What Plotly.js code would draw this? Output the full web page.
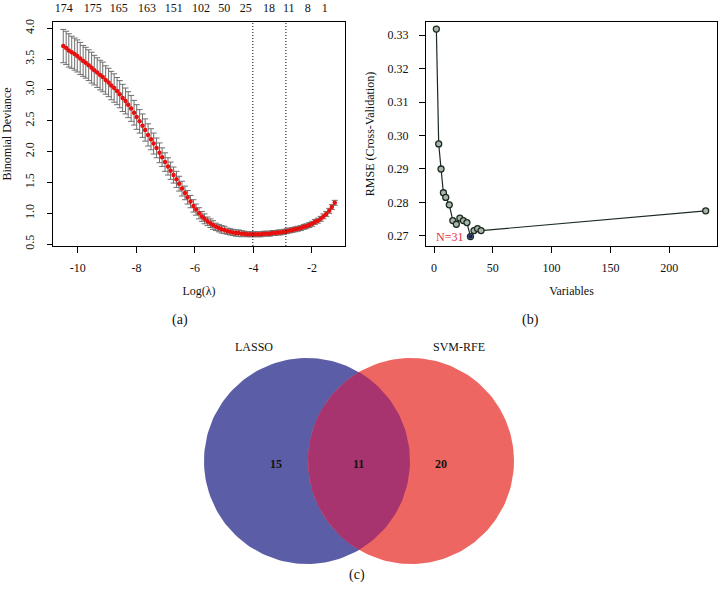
<!DOCTYPE html>
<html>
<head>
<meta charset="utf-8">
<script src="https://cdn.plot.ly/plotly-3.0.1.min.js"></script>
<style>html,body{margin:0;padding:0;background:#fff;}#chart{width:719px;height:594px;}</style>
</head>
<body>
<div id="chart"></div>
<script>
// ---------- Panel (a): LASSO cross-validation ----------
var logLambda = [-10.50,-10.40,-10.31,-10.21,-10.11,-10.02,-9.92,-9.82,-9.73,-9.63,
  -9.53,-9.44,-9.34,-9.24,-9.15,-9.05,-8.95,-8.86,-8.76,-8.66,
  -8.57,-8.47,-8.37,-8.28,-8.18,-8.08,-7.99,-7.89,-7.79,-7.70,
  -7.60,-7.50,-7.41,-7.31,-7.21,-7.12,-7.02,-6.92,-6.83,-6.73,
  -6.63,-6.54,-6.44,-6.34,-6.25,-6.15,-6.05,-5.96,-5.86,-5.76,
  -5.67,-5.57,-5.47,-5.38,-5.28,-5.18,-5.09,-4.99,-4.89,-4.80,
  -4.70,-4.60,-4.51,-4.41,-4.31,-4.22,-4.12,-4.02,-3.93,-3.83,
  -3.73,-3.64,-3.54,-3.44,-3.35,-3.25,-3.15,-3.06,-2.96,-2.86,
  -2.77,-2.67,-2.57,-2.48,-2.38,-2.28,-2.19,-2.09,-1.99,-1.90,
  -1.80,-1.70,-1.61,-1.51,-1.41,-1.32,-1.22];
var deviance = [3.71,3.68,3.64,3.61,3.58,3.55,3.51,3.47,3.44,3.40,
  3.36,3.32,3.28,3.24,3.21,3.16,3.12,3.07,3.03,2.98,
  2.93,2.87,2.82,2.76,2.70,2.63,2.56,2.49,2.42,2.35,
  2.27,2.20,2.13,2.06,1.98,1.91,1.83,1.76,1.69,1.62,
  1.55,1.48,1.40,1.33,1.26,1.19,1.12,1.06,1.00,0.95,
  0.91,0.87,0.84,0.81,0.78,0.76,0.74,0.73,0.71,0.70,
  0.69,0.68,0.68,0.67,0.67,0.66,0.66,0.66,0.66,0.66,
  0.66,0.67,0.67,0.67,0.68,0.68,0.69,0.69,0.70,0.71,
  0.72,0.73,0.74,0.75,0.76,0.78,0.79,0.81,0.83,0.86,
  0.88,0.91,0.95,0.99,1.04,1.10,1.17];
var devianceSE = [0.27,0.27,0.27,0.26,0.26,0.26,0.26,0.25,0.25,0.25,
  0.25,0.24,0.24,0.24,0.24,0.23,0.23,0.23,0.23,0.22,
  0.22,0.22,0.21,0.21,0.21,0.20,0.20,0.19,0.19,0.18,
  0.18,0.17,0.17,0.16,0.16,0.15,0.15,0.14,0.14,0.13,
  0.13,0.12,0.12,0.11,0.11,0.10,0.10,0.09,0.09,0.08,
  0.08,0.07,0.07,0.07,0.06,0.06,0.06,0.06,0.05,0.05,
  0.05,0.05,0.05,0.05,0.04,0.04,0.04,0.04,0.04,0.04,
  0.04,0.04,0.04,0.04,0.04,0.04,0.04,0.04,0.04,0.04,
  0.04,0.04,0.04,0.04,0.04,0.04,0.04,0.04,0.04,0.04,
  0.04,0.04,0.04,0.04,0.04,0.04,0.04];
var lambdaMin = -4.02, lambda1se = -2.89;
var topTickPos = [-10.48,-9.49,-8.60,-7.64,-6.72,-5.79,-5.00,-4.26,-3.47,-2.79,-2.14,-1.56];
var topTickLabels = ["174","175","165","163","151","102","50","25","18","11","8","1"];

// ---------- Panel (b): SVM-RFE ----------
var nVariables = [2,4,6,8,10,13,16,19,22,25,28,31,34,37,40,231];
var rmse = [0.3318,0.2975,0.2900,0.2829,0.2815,0.2793,0.2746,0.2735,0.2753,0.2746,0.2740,0.2698,0.2716,0.2722,0.2716,0.2775];
var bestN = 31, bestRmse = 0.2698;

// ---------- Panel (c): Venn ----------
var setNames = ["LASSO","SVM-RFE"];
var onlyLasso = 15, both = 11, onlySvm = 20;

var FONT = "Liberation Serif, Times New Roman, serif";
var W = 719, H = 594;
function px(x){return x/W;}
function py(y){return 1 - y/H;}

var traces = [];
traces.push({
  x: logLambda, y: deviance, type: "scatter", mode: "markers",
  xaxis: "x", yaxis: "y",
  marker: {color: "#E8100E", size: 4.5},
  error_y: {type: "data", array: devianceSE, visible: true, color: "#6e6e6e", thickness: 1, width: 3},
  hoverinfo: "x+y"
});
// carrier for the top (number of non-zero coefficients) axis
traces.push({
  x: logLambda, y: deviance, type: "scatter", mode: "none",
  xaxis: "x2", yaxis: "y", hoverinfo: "skip"
});
traces.push({
  x: nVariables, y: rmse, type: "scatter", mode: "lines+markers",
  xaxis: "x3", yaxis: "y3",
  line: {color: "#1c2b22", width: 1.2},
  marker: {symbol: "circle", size: 6, color: "#a9b5a9", line: {color: "#1c2b22", width: 1.3}}
});
traces.push({
  x: [bestN], y: [bestRmse], type: "scatter", mode: "markers",
  xaxis: "x3", yaxis: "y3",
  marker: {size: 4.5, color: "#1a2366"}
});

// Venn geometry (axis x4/y4, 1 unit = 1 px)
var R = 103, cL = [127,119], cR = [231,119];
function arc(c, a0, a1, n){
  var xs=[], ys=[];
  for (var i=0;i<=n;i++){var a=a0+(a1-a0)*i/n; xs.push(c[0]+R*Math.cos(a)); ys.push(c[1]+R*Math.sin(a));}
  return [xs,ys];
}
var full = function(c){return arc(c,0,2*Math.PI,180);};
var L = full(cL), Rt = full(cR);
traces.push({x:L[0], y:L[1], xaxis:"x4", yaxis:"y4", type:"scatter", mode:"lines", fill:"toself", fillcolor:"#5B5EA6", line:{width:0, color:"#5B5EA6"}, hoverinfo:"skip"});
traces.push({x:Rt[0], y:Rt[1], xaxis:"x4", yaxis:"y4", type:"scatter", mode:"lines", fill:"toself", fillcolor:"#EE6662", line:{width:0, color:"#EE6662"}, hoverinfo:"skip"});
var d = cR[0]-cL[0], th = Math.acos((d/2)/R);
var a1 = arc(cL,-th,th,60), a2 = arc(cR,Math.PI-th,Math.PI+th,60);
traces.push({x:a1[0].concat(a2[0]), y:a1[1].concat(a2[1]), xaxis:"x4", yaxis:"y4", type:"scatter", mode:"lines", fill:"toself", fillcolor:"#A8346F", line:{width:0, color:"#A8346F"}, hoverinfo:"skip"});

var axFont = {family: FONT, size: 12, color: "#111"};
var yDom = [py(246), py(22)];
var layout = {
  width: W, height: H, showlegend: false,
  margin: {l:0, r:0, t:0, b:0},
  paper_bgcolor: "#fff", plot_bgcolor: "#fff",
  font: {family: FONT, size: 12, color: "#111"},
  xaxis: {domain:[px(53), px(345)], anchor:"y", range:[-10.85,-0.87], tickvals:[-10,-8,-6,-4,-2], ticktext:["-10","-8","-6","-4","-2"],
    ticks:"outside", ticklen:6, tickcolor:"#000", showline:true, mirror:true, linecolor:"#000", linewidth:1,
    showgrid:false, zeroline:false, tickfont:axFont, ticklabelstandoff:5,
    title:{text:"Log(λ)", font:axFont, standoff:12}},
  xaxis2: {overlaying:"x", side:"top", anchor:"y", range:[-10.85,-0.87], tickvals: topTickPos, ticktext: topTickLabels,
    ticks:"", showline:false, showgrid:false, zeroline:false, tickfont:axFont, ticklabelstandoff:7},
  yaxis: {domain: yDom, anchor:"x", range:[0.47,4.1], tickvals:[0.5,1,1.5,2,2.5,3,3.5,4], ticktext:["0.5","1.0","1.5","2.0","2.5","3.0","3.5","4.0"],
    tickangle:-90, ticks:"outside", ticklen:5, tickcolor:"#000", showline:true, mirror:true, linecolor:"#000", linewidth:1,
    showgrid:false, zeroline:false, tickfont:axFont, ticklabelstandoff:8,
    title:{text:"Binomial Deviance", font:axFont, standoff:10}},
  xaxis3: {domain:[px(426), px(717)], anchor:"y3", range:[-6.8,240.6], tickvals:[0,50,100,150,200],
    ticks:"outside", ticklen:6, tickcolor:"#000", showline:true, mirror:true, linecolor:"#000", linewidth:1,
    showgrid:false, zeroline:false, tickfont:axFont, ticklabelstandoff:5,
    title:{text:"Variables", font:axFont, standoff:12}},
  yaxis3: {domain: yDom, anchor:"x3", range:[0.267,0.3339], tickvals:[0.27,0.28,0.29,0.30,0.31,0.32,0.33], ticktext:["0.27","0.28","0.29","0.30","0.31","0.32","0.33"],
    ticks:"outside", ticklen:6, tickcolor:"#000", showline:true, mirror:true, linecolor:"#000", linewidth:1,
    showgrid:false, zeroline:false, tickfont:axFont, ticklabelstandoff:8,
    title:{text:"RMSE (Cross-Validation)", font:axFont, standoff:10}},
  xaxis4: {domain:[px(180), px(540)], anchor:"y4", range:[0,360], visible:false, fixedrange:true},
  yaxis4: {domain:[py(580), py(340)], anchor:"x4", range:[0,240], visible:false, fixedrange:true},
  shapes: [
    {type:"line", xref:"x", yref:"y domain", x0:lambdaMin, x1:lambdaMin, y0:0, y1:1, line:{color:"#000", width:1, dash:"1px,2px"}},
    {type:"line", xref:"x", yref:"y domain", x0:lambda1se, x1:lambda1se, y0:0, y1:1, line:{color:"#000", width:1, dash:"1px,2px"}}
  ],
  annotations: [
    {x:bestN, y:bestRmse, xref:"x3", yref:"y3", text:"N=" + bestN, showarrow:false, xanchor:"right", xshift:-5, font:{family:FONT, size:12, color:"#E8303A"}},
    {x:px(170), y:py(320), xref:"paper", yref:"paper", text:"(a)", showarrow:false, font:{family:FONT, size:14, color:"#111"}},
    {x:px(541), y:py(320), xref:"paper", yref:"paper", text:"(b)", showarrow:false, font:{family:FONT, size:14, color:"#111"}},
    {x:px(357), y:py(585), xref:"paper", yref:"paper", text:"(c)", showarrow:false, font:{family:FONT, size:14, color:"#111"}},
    {x:74, y:233, xref:"x4", yref:"y4", text:setNames[0], showarrow:false, font:{family:FONT, size:12, color:"#111"}},
    {x:279, y:233, xref:"x4", yref:"y4", text:setNames[1], showarrow:false, font:{family:FONT, size:12, color:"#111"}},
    {x:96, y:116, xref:"x4", yref:"y4", text:"<b>"+onlyLasso+"</b>", showarrow:false, font:{family:FONT, size:12, color:"#111"}},
    {x:178, y:116, xref:"x4", yref:"y4", text:"<b>"+both+"</b>", showarrow:false, font:{family:FONT, size:12, color:"#111"}},
    {x:261, y:116, xref:"x4", yref:"y4", text:"<b>"+onlySvm+"</b>", showarrow:false, font:{family:FONT, size:12, color:"#111"}}
  ]
};
Plotly.newPlot("chart", traces, layout, {displayModeBar:false, staticPlot:true});
</script>
</body>
</html>
